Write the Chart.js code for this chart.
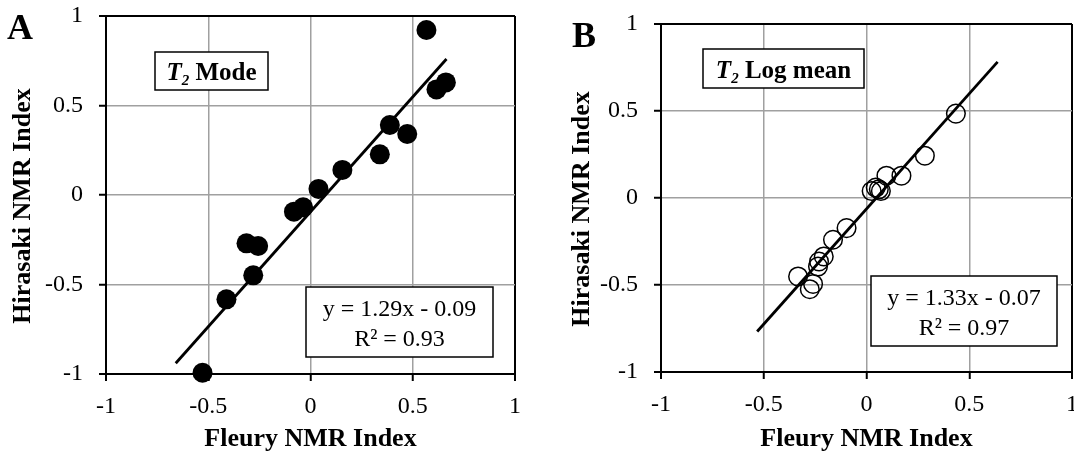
<!DOCTYPE html>
<html>
<head>
<meta charset="utf-8">
<script src="https://cdn.jsdelivr.net/npm/chart.js@4.4.1/dist/chart.umd.min.js"></script>
<style>
  body { margin: 0; background: #fff; width: 1074px; height: 457px; overflow: hidden; position: relative; }
  .panel { position: absolute; top: 0; height: 457px; }
  #wrapA { left: 0; width: 530px; }
  #wrapB { left: 540px; width: 550px; }
</style>
</head>
<body>
<div class="panel" id="wrapA"><canvas id="chartA"></canvas></div>
<div class="panel" id="wrapB"><canvas id="chartB"></canvas></div>

<script>
// --- DATA ---
const tickValues = [-1, -0.5, 0, 0.5, 1];
const tickLabels = ['-1', '-0.5', '0', '0.5', '1'];

// Panel A: T2 mode
const modeX = [0.567, 0.616, 0.662, 0.388, 0.473, 0.339, 0.156, 0.039, -0.081, -0.036, -0.313, -0.256, -0.280, -0.411, -0.528];
const modeY = [0.922, 0.590, 0.629, 0.391, 0.341, 0.227, 0.140, 0.034, -0.093, -0.069, -0.270, -0.285, -0.449, -0.583, -0.993];
const modeFitX = [-0.659, 0.665];
const modeFitY = [-0.940, 0.760];

// Panel B: T2 log mean
const logX = [0.435, 0.284, 0.170, 0.097, 0.025, 0.045, 0.060, 0.070, -0.097, -0.163, -0.208, -0.231, -0.236, -0.333, -0.260, -0.276];
const logY = [0.485, 0.243, 0.128, 0.128, 0.040, 0.060, 0.050, 0.040, -0.173, -0.240, -0.336, -0.365, -0.394, -0.451, -0.494, -0.524];
const logFitX = [-0.532, 0.638];
const logFitY = [-0.767, 0.782];

const FONT = "'Liberation Serif', 'Times New Roman', serif";

function toPoints(xs, ys) {
  return xs.map((x, i) => ({ x, y: ys[i] }));
}

// --- BOXES, PANEL LETTER, Y TITLE ---
const annotate = {
  id: 'annotate',
  afterDatasetsDraw(chart, args, opts) {
    const ctx = chart.ctx;
    ctx.save();

    // panel letter
    ctx.fillStyle = '#000';
    ctx.textBaseline = 'alphabetic';
    ctx.textAlign = 'left';
    ctx.font = `bold 36px ${FONT}`;
    ctx.fillText(opts.letter, opts.letterX, opts.letterY);

    // y axis title (sits a bit below the plot centre in the original)
    ctx.save();
    ctx.translate(opts.yTitleX, opts.yTitleY);
    ctx.rotate(-Math.PI / 2);
    ctx.textAlign = 'center';
    ctx.textBaseline = 'middle';
    ctx.font = `bold 26px ${FONT}`;
    ctx.fillText('Hirasaki NMR Index', 0, 0);
    ctx.restore();

    // label box with T2 subscript
    const lb = opts.labelBox;
    ctx.fillStyle = '#fff';
    ctx.fillRect(lb.x, lb.y, lb.w, lb.h);
    ctx.strokeStyle = '#000';
    ctx.lineWidth = 1.5;
    ctx.strokeRect(lb.x, lb.y, lb.w, lb.h);

    const big = `italic bold 25px ${FONT}`;
    const sub = `italic bold 15px ${FONT}`;
    const rest = `bold 25px ${FONT}`;
    ctx.font = big; const wT = ctx.measureText('T').width;
    ctx.font = sub; const w2 = ctx.measureText('2').width;
    ctx.font = rest; const wR = ctx.measureText(' ' + opts.label).width;
    let x = lb.x + (lb.w - wT - w2 - wR) / 2;
    const base = lb.y + lb.h / 2 + 9;
    ctx.fillStyle = '#000';
    ctx.font = big; ctx.fillText('T', x, base); x += wT;
    ctx.font = sub; ctx.fillText('2', x, base + 5); x += w2;
    ctx.font = rest; ctx.fillText(' ' + opts.label, x, base);

    // equation box
    const eb = opts.eqBox;
    ctx.fillStyle = '#fff';
    ctx.fillRect(eb.x, eb.y, eb.w, eb.h);
    ctx.strokeRect(eb.x, eb.y, eb.w, eb.h);
    ctx.fillStyle = '#000';
    ctx.textAlign = 'center';
    ctx.font = `24px ${FONT}`;
    ctx.fillText(opts.eq[0], eb.x + eb.w / 2, eb.y + eb.h / 2 - 6);
    ctx.fillText(opts.eq[1], eb.x + eb.w / 2, eb.y + eb.h / 2 + 24);

    ctx.restore();
  }
};

function edge(c) {
  return c.tick && Math.abs(c.tick.value) === 1;
}

function makeScale(axis, size, title) {
  return {
    type: 'linear',
    min: -1,
    max: 1,
    afterBuildTicks: s => { s.ticks = tickValues.map(v => ({ value: v })); },
    afterFit: s => {
      // fixed axis box, no extra label overhang padding
      if (axis === 'x') s.height = size; else s.width = size;
      s.paddingTop = 0; s.paddingBottom = 0; s.paddingLeft = 0; s.paddingRight = 0;
    },
    ticks: {
      callback: (v, i) => tickLabels[i],
      color: '#000',
      font: { family: FONT, size: 24 },
      padding: axis === 'x' ? 11 : 16,
      maxRotation: 0,
      autoSkip: false
    },
    grid: {
      color: c => edge(c) ? '#000' : '#a0a0a0',
      lineWidth: c => edge(c) ? 2 : 1.5,
      tickColor: '#000',
      tickWidth: 2,
      tickLength: 7
    },
    border: { display: true, color: '#000', width: 2 },
    title: title
  };
}

function makeChart(id, pts, fit, point, pad, yWidth, xHeight, ann) {
  return new Chart(document.getElementById(id), {
    type: 'scatter',
    data: {
      datasets: [
        {
          type: 'line',
          data: fit,
          borderColor: '#000',
          borderWidth: 2.8,
          pointRadius: 0,
          showLine: true,
          clip: false
        },
        Object.assign({ data: pts, clip: false }, point)
      ]
    },
    options: {
      responsive: true,
      maintainAspectRatio: false,
      animation: false,
      layout: { padding: pad },
      plugins: {
        legend: { display: false },
        tooltip: { enabled: false },
        annotate: ann
      },
      scales: {
        x: makeScale('x', xHeight, {
          display: true,
          text: 'Fleury NMR Index',
          color: '#000',
          font: { family: FONT, size: 26, weight: 'bold' },
          padding: { top: 2, bottom: 2 }
        }),
        y: makeScale('y', yWidth, { display: false })
      }
    },
    plugins: [annotate]
  });
}

makeChart('chartA',
  toPoints(modeX, modeY),
  toPoints(modeFitX, modeFitY),
  { pointRadius: 10, backgroundColor: '#000', borderWidth: 0 },
  { left: 0, top: 16, right: 15, bottom: 0 },
  106, 83,
  {
    letter: 'A', letterX: 7, letterY: 39,
    yTitleX: 23, yTitleY: 206,
    label: 'Mode',
    labelBox: { x: 155, y: 52, w: 113, h: 38 },
    eqBox: { x: 306, y: 287, w: 187, h: 70 },
    eq: ['y = 1.29x - 0.09', 'R\u00b2 = 0.93']
  });

makeChart('chartB',
  toPoints(logX, logY),
  toPoints(logFitX, logFitY),
  { pointRadius: 9.3, backgroundColor: 'rgba(0,0,0,0)', borderColor: '#000', borderWidth: 1.5 },
  { left: 0, top: 24, right: 18, bottom: 0 },
  121, 85,
  {
    letter: 'B', letterX: 32, letterY: 47,
    yTitleX: 42, yTitleY: 209,
    label: 'Log mean',
    labelBox: { x: 163, y: 49, w: 161, h: 39 },
    eqBox: { x: 331, y: 276, w: 186, h: 70 },
    eq: ['y = 1.33x - 0.07', 'R\u00b2 = 0.97']
  });
</script>
</body>
</html>
